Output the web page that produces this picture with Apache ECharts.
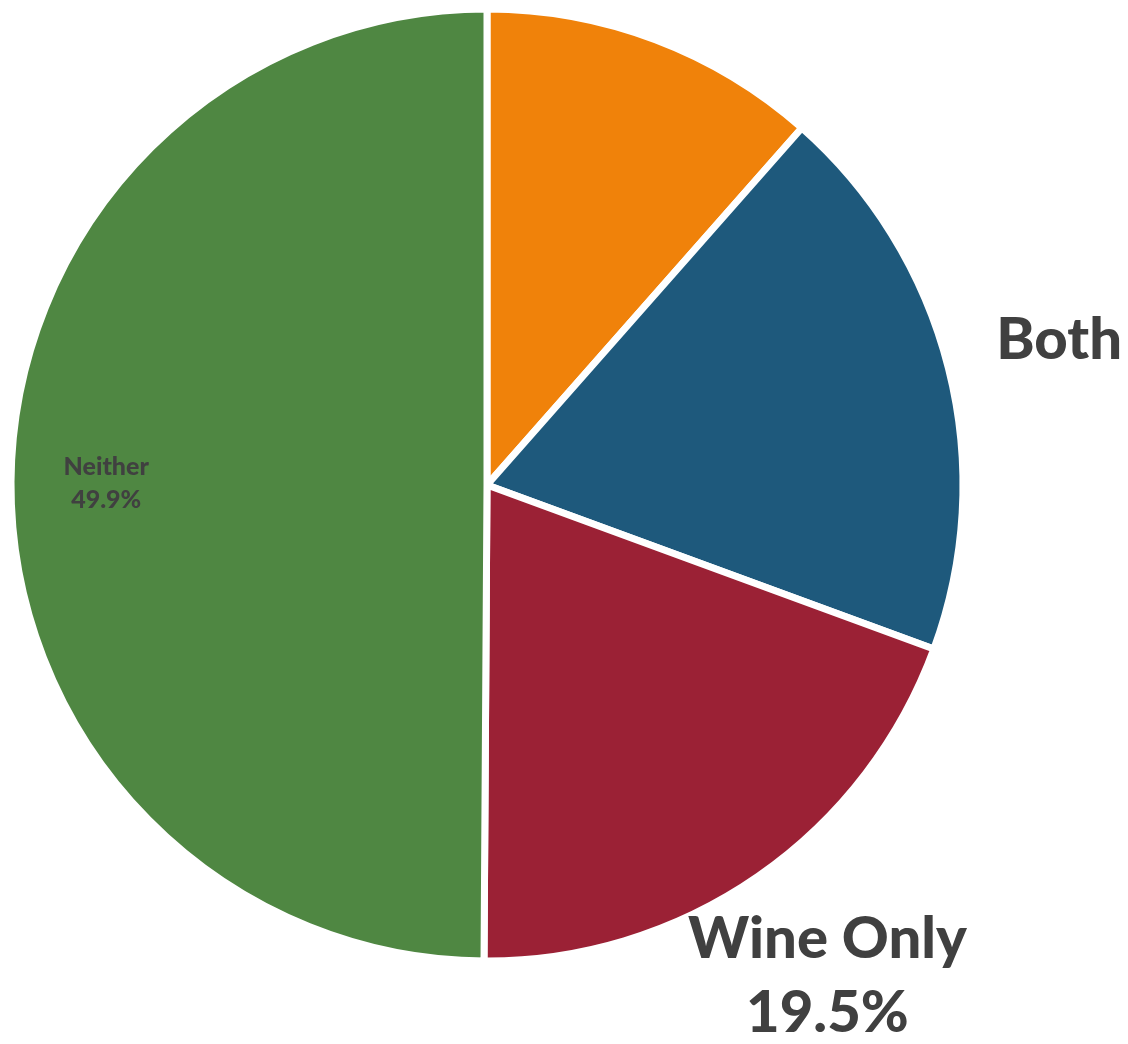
<!DOCTYPE html>
<html>
<head>
<meta charset="utf-8">
<script src="https://cdn.jsdelivr.net/npm/echarts@6/dist/echarts.min.js"></script>
<style>
  html, body { margin: 0; padding: 0; background: #ffffff; }
  #chart { width: 1128px; height: 1044px; }
</style>
</head>
<body>
<div id="chart"></div>
<script>
// Share of respondents by drink preference (percent)
const categories = ['Beer Only', 'Both', 'Wine Only', 'Neither'];
const shares = [11.5, 19.1, 19.5, 49.9];
const sliceColors = ['#F0820A', '#1E597C', '#9B2135', '#4F8742'];

// Which label text each slice carries: none, name, or name + percent
const labelModes = ['none', 'name', 'full', 'full'];
// Distance of each label from the centre, as a fraction of the radius
const labelRadiusFactor = [1.25, 1.24, 1.255, 0.8];

const CENTER = [487, 485];
const RADIUS = 476;
const START_ANGLE = 90;

const total = shares.reduce((a, b) => a + b, 0);
// mid angle (radians, clockwise from 12 o'clock) of each slice
const midAngles = [];
{
  let acc = 0;
  shares.forEach(v => {
    midAngles.push(((acc + v / 2) / total) * 2 * Math.PI);
    acc += v;
  });
}

const bigLabel = {
  fontFamily: 'Lato',
  fontWeight: 900,
  fontSize: 58,
  lineHeight: 74,
  color: '#404040'
};
const smallLabel = {
  fontFamily: 'Lato',
  fontWeight: 900,
  fontSize: 25,
  lineHeight: 33,
  color: '#404040'
};

const data = categories.map((name, i) => {
  const mode = labelModes[i];
  const style = i === 3 ? smallLabel : bigLabel;
  return {
    name: name,
    value: shares[i],
    itemStyle: { color: sliceColors[i] },
    label: {
      show: mode !== 'none',
      position: 'inside',
      align: 'center',
      verticalAlign: 'middle',
      formatter: mode === 'name'
        ? '{b}'
        : (p) => p.name + '\n' + p.value.toFixed(1) + '%',
      ...style
    }
  };
});

const chart = echarts.init(document.getElementById('chart'), null, { renderer: 'canvas' });

chart.setOption({
  backgroundColor: '#ffffff',
  animation: false,
  series: [{
    type: 'pie',
    center: CENTER,
    radius: [0, RADIUS],
    startAngle: START_ANGLE,
    clockwise: true,
    avoidLabelOverlap: false,
    itemStyle: {
      borderColor: '#ffffff',
      borderWidth: 7
    },
    labelLine: { show: false },
    emphasis: { disabled: true },
    data: data,
    labelLayout: function (params) {
      const i = params.dataIndex;
      const a = midAngles[i];
      const r = RADIUS * labelRadiusFactor[i];
      return {
        x: CENTER[0] + r * Math.sin(a),
        y: CENTER[1] - r * Math.cos(a),
        align: 'center',
        verticalAlign: 'middle'
      };
    }
  }]
});
</script>
</body>
</html>
